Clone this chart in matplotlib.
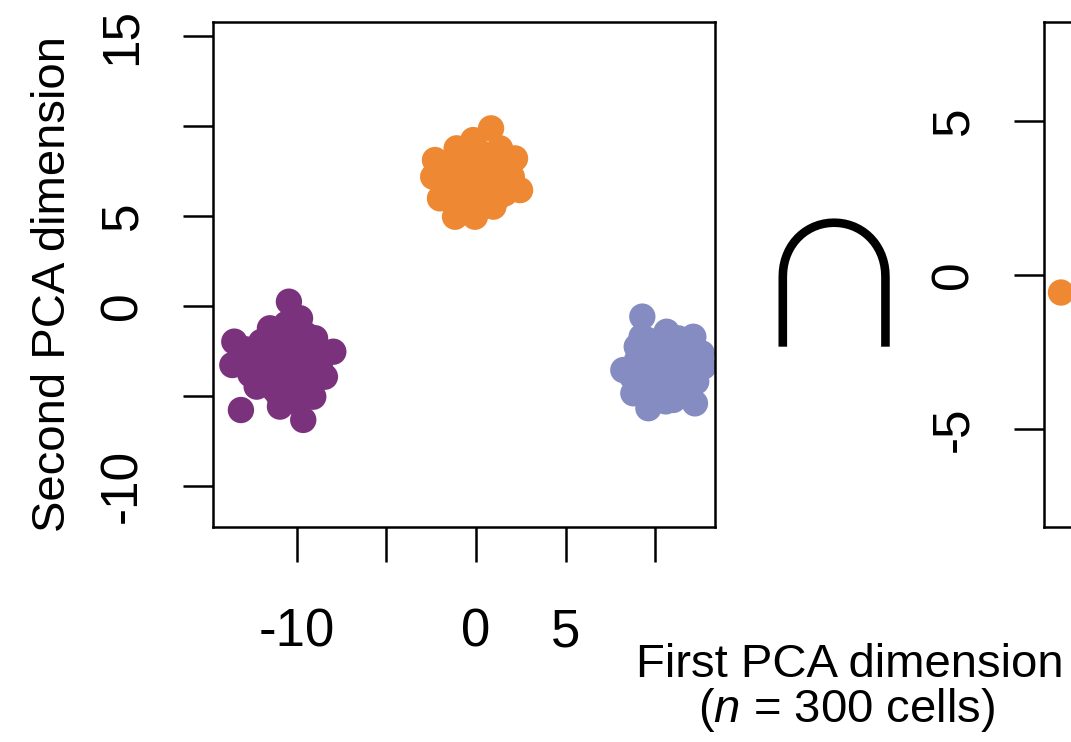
import matplotlib
matplotlib.use("Agg")
import matplotlib.pyplot as plt

# cell coordinates (first / second PCA dimension)
purple_x = [-10.45, -9.83, -11.51, -13.50, -13.61, -12.25, -13.13, -10.95, -9.65, -9.09,
            -8.44, -7.97, -8.99, -11.79, -10.85, -9.93, -10.85, -11.79, -9.37, -10.30,
            -12.35, -10.11, -11.23, -12.8, -12.0, -11.2, -10.6, -9.5, -9.0, -8.7,
            -9.4, -10.2, -11.0, -11.8, -12.6, -10.5, -11.4, -9.6, -10.0, -11.5, -12.9]
purple_y = [0.24, -0.68, -1.24, -1.98, -3.28, -4.48, -5.78, -5.59, -6.33, -5.04,
            -3.93, -2.54, -1.79, -2.82, -2.63, -3.18, -4.11, -3.56, -4.11, -1.71,
            -2.63, -4.67, -4.67, -3.0, -2.0, -1.8, -1.0, -1.6, -2.8, -3.5,
            -4.6, -5.3, -5.0, -4.3, -3.8, -3.4, -3.0, -3.7, -2.2, -2.3, -2.4]
orange_x = [0.84, -0.15, -1.08, -2.29, -2.39, -2.01, -1.17, -0.06, 0.97, 2.46,
            2.18, 1.34, 2.00, -0.61, 0.32, -0.06, 0.88, -1.17, -1.55, 1.25,
            0.32, 1.62, -1.5, -0.8, 0.0, 0.9, 1.6, 1.2, 0.3, -0.6,
            -1.4, -1.9, -0.3, 0.6, -1.0, 1.9]
orange_y = [9.87, 9.22, 8.76, 8.11, 7.18, 5.98, 4.96, 4.96, 5.52, 6.44,
            8.20, 8.76, 7.18, 7.18, 7.56, 6.44, 6.63, 7.56, 6.44, 7.74,
            8.48, 6.26, 7.8, 8.2, 8.0, 8.2, 7.2, 6.0, 5.6, 5.8,
            6.0, 6.9, 6.9, 7.0, 6.8, 6.9]
blue_x = [9.29, 10.65, 12.14, 12.61, 12.70, 12.23, 11.02, 9.63, 8.79, 8.23,
          8.98, 9.25, 10.00, 10.93, 10.00, 11.30, 9.44, 10.56, 11.86, 11.68,
          9.0, 9.6, 10.3, 11.3, 12.0, 12.3, 12.3, 11.8, 10.6, 9.8,
          9.1, 8.7, 10.4, 11.0, 9.6, 11.4]
blue_y = [-0.59, -1.43, -1.71, -2.63, -3.37, -5.41, -5.22, -5.68, -4.85, -3.56,
          -2.26, -1.71, -2.44, -3.00, -3.74, -4.11, -4.48, -4.67, -3.74, -2.63,
          -3.0, -1.9, -1.9, -1.8, -2.3, -3.0, -4.2, -4.8, -5.3, -5.2,
          -4.2, -3.9, -3.3, -2.4, -3.2, -4.5]
right_x = [-13.74]
right_y = [-0.57]

x_ticks = [-10, -5, 0, 5, 10]
x_labels = ["-10", "", "0", "5", ""]
y_ticks = [-10, -5, 0, 5, 10, 15]
y_labels = ["-10", "", "0", "5", "", "15"]
right_ticks = [-5, 0, 5]
right_labels = ["-5", "0", "5"]

PURPLE = "#7b327d"
ORANGE = "#ee8833"
BLUE = "#848cc2"
SIZE = 360

plt.rcParams["font.family"] = "Liberation Sans"
plt.rcParams["mathtext.fontset"] = "custom"
plt.rcParams["mathtext.rm"] = "Liberation Sans"
plt.rcParams["mathtext.it"] = "Liberation Sans:italic"

W, H = 1071, 742
fig = plt.figure(figsize=(W / 100, H / 100), dpi=100)


def style(ax, ticks, labels, xt=True):
    for s in ax.spines.values():
        s.set_linewidth(1.8)
    ax.set_yticks(ticks)
    ax.set_yticklabels(labels)
    ax.tick_params(axis="y", direction="out", length=21.5, width=1.8, pad=26,
                   labelsize=37, labelrotation=90)
    for t in ax.get_yticklabels():
        t.set_va("center")
    if xt:
        ax.set_xticks(x_ticks)
        ax.set_xticklabels(x_labels)
        ax.tick_params(axis="x", direction="out", length=25, width=1.8, pad=33,
                       labelsize=38)
    else:
        ax.set_xticks([])


ax = fig.add_axes([213 / W, 1 - 527 / H, 502 / W, 505 / H])
ax.scatter(purple_x, purple_y, s=SIZE, c=PURPLE, edgecolors="none")
ax.scatter(orange_x, orange_y, s=SIZE, c=ORANGE, edgecolors="none")
ax.scatter(blue_x, blue_y, s=SIZE, c=BLUE, edgecolors="none")
ax.set_xlim(-14.69, 13.35)
ax.set_ylim(-12.28, 15.78)
style(ax, y_ticks, y_labels)

ax2 = fig.add_axes([1044 / W, 1 - 527 / H, 502 / W, 505 / H])
ax2.scatter(right_x, right_y, s=SIZE, c=ORANGE, edgecolors="none", clip_on=False)
ax2.set_xlim(-14.69, 13.35)
ax2.set_ylim(-8.18, 8.21)
style(ax2, right_ticks, right_labels, xt=False)

fig.text(65 / W, 1 - 284 / H, "Second PCA dimension", fontsize=34, rotation=90,
         rotation_mode="anchor", ha="center", va="baseline")
fig.text(850 / W, 1 - 677 / H, "First PCA dimension", fontsize=34,
         ha="center", va="baseline")
fig.text(847 / W, 1 - 722 / H, "($n$ = 300 cells)", fontsize=34,
         ha="center", va="baseline")

# intersection sign between the two panels
fig.text(834 / W, 1 - 347 / H, "\u2229", fontsize=124, family=["Noto Sans CJK JP"],
         fontweight=300, ha="center", va="baseline")

fig.savefig("out.png", dpi=100)
